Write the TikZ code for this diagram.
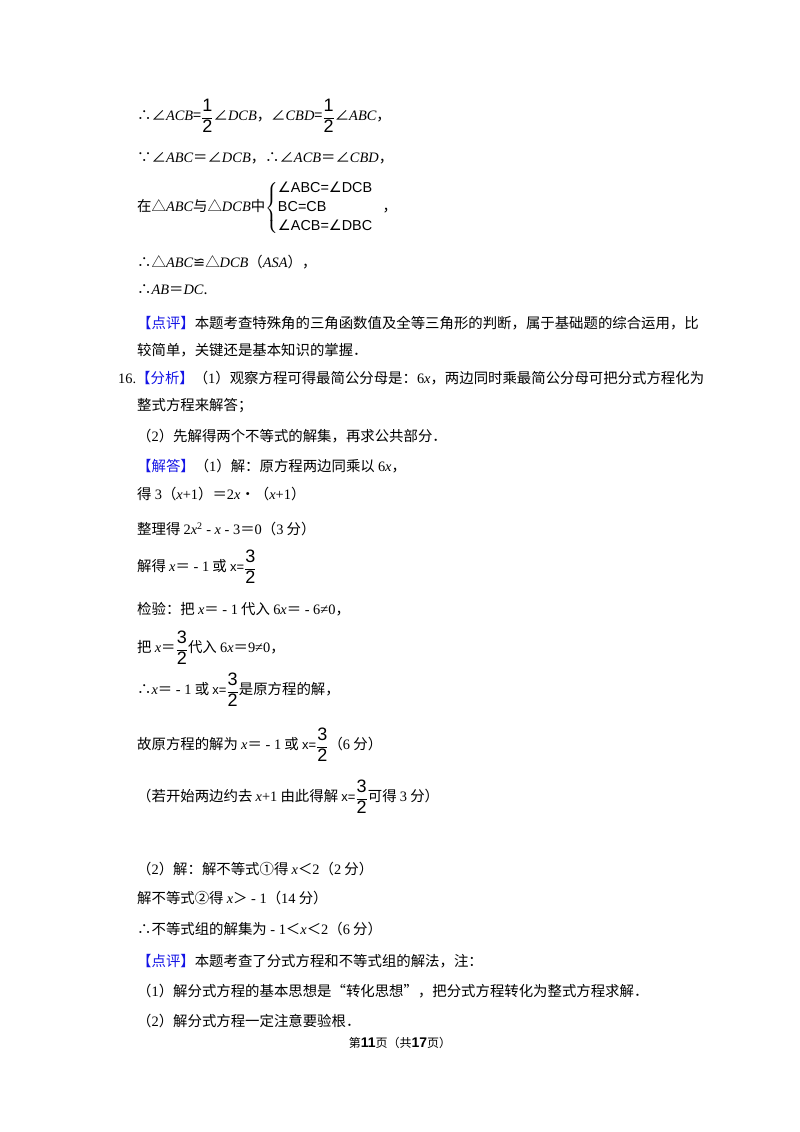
\documentclass[tikz,border=0pt]{standalone}
\usepackage{amsmath}
\usepackage{fontspec}
\setmainfont{Liberation Serif}
\newfontfamily\cj{Noto Sans CJK SC}
\newfontfamily\djv{DejaVu Sans}
\newfontfamily\ars{Liberation Sans}
\newcommand\Va[1]{{\rmfamily\itshape #1}}
\newcommand\Nm[1]{{\rmfamily #1}}
\newcommand\Fr[2]{\raisebox{-0.1ex}{$\dfrac{\text{\ars\fontsize{18}{18}\selectfont #1}}{\text{\ars\fontsize{18}{18}\selectfont #2}}$}}
\newcommand\Xe{{\ars\fontsize{13}{13}\selectfont x=}}
\newcommand\Ang{{\djv ∠}}
\definecolor{tagblue}{RGB}{20,20,230}
\newcommand\Tag[1]{{\color{tagblue}【#1】}}
\begin{document}
\begin{tikzpicture}[x=1pt,y=-1pt,
  ln/.style={anchor=west,inner sep=0pt,font=\cj\fontsize{14.4}{16}\selectfont}]
\useasboundingbox (0,0) rectangle (800,1132);
\fill[white] (0,0) rectangle (800,1132);
\node[ln] (l1) at (137,116) {∴∠\Va{ACB}=\Fr{1}{2}∠\Va{DCB}，∠\Va{CBD}=\Fr{1}{2}∠\Va{ABC}，};
\node[ln] (l2) at (137,158) {∵∠\Va{ABC}＝∠\Va{DCB}，∴∠\Va{ACB}＝∠\Va{CBD}，};
\node[ln] (l3) at (137,208) {在△\Va{ABC}与△\Va{DCB}中$\left\{\begin{array}{@{}l@{}}\text{\ars\Ang ABC=\Ang DCB}\\[3pt]\text{\ars BC=CB}\hspace{3.9em}\text{，}\\[3pt]\text{\ars\Ang ACB=\Ang DBC}\end{array}\right.$};
\node[ln] (l4) at (137,262) {∴△\Va{ABC}{\djv ≌}△\Va{DCB}（\Va{ASA}），};
\node[ln] (l5) at (137,290) {∴\Va{AB}＝\Va{DC}.};
\node[ln] (l6) at (137,323) {\Tag{点评}本题考查特殊角的三角函数值及全等三角形的判断，属于基础题的综合运用，比};
\node[ln] (l7) at (137,350) {较简单，关键还是基本知识的掌握．};
\node[ln] (l8) at (118,378) {\Nm{16.}\Tag{分析}（\Nm{1}）观察方程可得最简公分母是：\Nm{6}\Va{x}，两边同时乘最简公分母可把分式方程化为};
\node[ln] (l9) at (137,406) {整式方程来解答；};
\node[ln] (l10) at (137,436) {（\Nm{2}）先解得两个不等式的解集，再求公共部分．};
\node[ln] (l11) at (137,466) {\Tag{解答}（\Nm{1}）解：原方程两边同乘以 \Nm{6}\Va{x}，};
\node[ln] (l12) at (137,494) {得 \Nm{3}（\Va{x}\Nm{+1}）＝\Nm{2}\Va{x}•（\Va{x}\Nm{+1}）};
\node[ln] (l13) at (137,529) {整理得 \Nm{2}\Va{x}\Nm{\textsuperscript{2}}\Nm{ - }\Va{x}\Nm{ - 3}＝\Nm{0}（\Nm{3} 分）};
\node[ln] (l14) at (137,567) {解得 \Va{x}＝\Nm{ - 1} 或 \Xe\Fr{3}{2}};
\node[ln] (l15) at (137,609) {检验：把 \Va{x}＝\Nm{ - 1} 代入 \Nm{6}\Va{x}＝\Nm{ - 6≠0}，};
\node[ln] (l16) at (137,648) {把 \Va{x}＝\Fr{3}{2}代入 \Nm{6}\Va{x}＝\Nm{9≠0}，};
\node[ln] (l17) at (137,690) {∴\Va{x}＝\Nm{ - 1} 或 \Xe\Fr{3}{2}是原方程的解，};
\node[ln] (l18) at (137,745) {故原方程的解为 \Va{x}＝\Nm{ - 1} 或 \Xe\Fr{3}{2}（\Nm{6} 分）};
\node[ln] (l19) at (137,797) {（若开始两边约去 \Va{x}\Nm{+1} 由此得解 \Xe\Fr{3}{2}可得 \Nm{3} 分）};
\node[ln] (l20) at (137,869) {（\Nm{2}）解：解不等式①得 \Va{x}＜\Nm{2}（\Nm{2} 分）};
\node[ln] (l21) at (137,898) {解不等式②得 \Va{x}＞\Nm{ - 1}（\Nm{14} 分）};
\node[ln] (l22) at (137,929) {∴不等式组的解集为\Nm{ - 1}＜\Va{x}＜\Nm{2}（\Nm{6} 分）};
\node[ln] (l23) at (137,961) {\Tag{点评}本题考查了分式方程和不等式组的解法，注：};
\node[ln] (l24) at (137,991) {（\Nm{1}）解分式方程的基本思想是“转化思想”，把分式方程转化为整式方程求解．};
\node[ln] (l25) at (137,1021) {（\Nm{2}）解分式方程一定注意要验根．};
\node[anchor=center,inner sep=0pt,font=\cj\fontsize{12}{14}\selectfont] (ft) at (400,1043) {第{\ars\bfseries\fontsize{14}{14}\selectfont 11}页（共{\ars\bfseries\fontsize{14}{14}\selectfont 17}页）};
\end{tikzpicture}
\end{document}
